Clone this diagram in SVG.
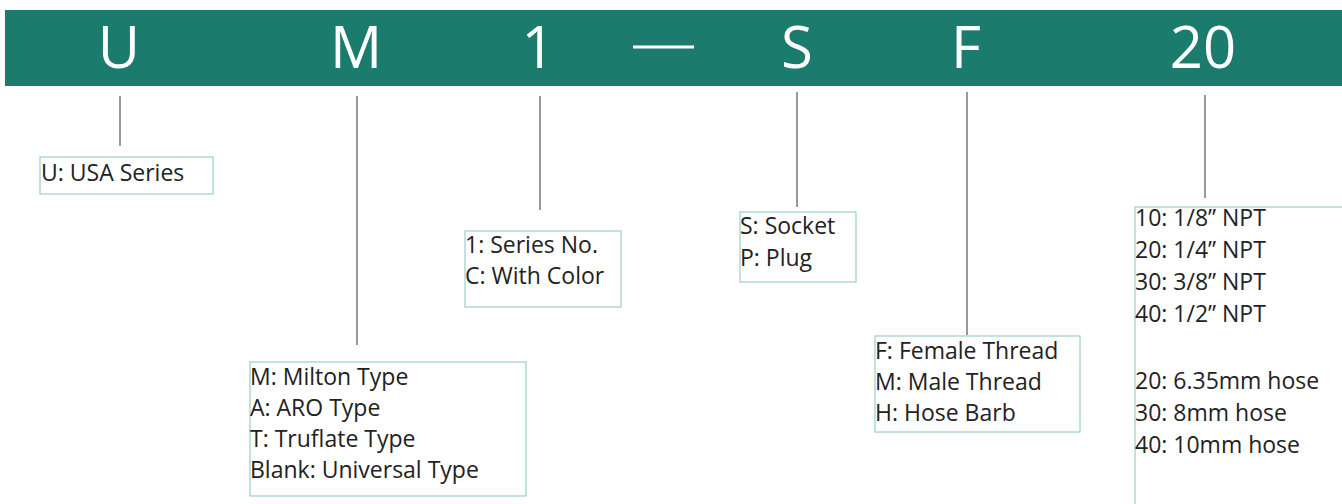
<svg xmlns="http://www.w3.org/2000/svg" width="1342" height="504" viewBox="0 0 1342 504">
<style>
.hdr{font-family:"Open Sans","Noto Sans",sans-serif;font-size:58px;fill:#ffffff;text-anchor:middle}
.box{fill:#ffffff;stroke:#9ccfc6;stroke-width:1.2}
.t{font-family:"Open Sans","Noto Sans",sans-serif;font-size:23px;fill:#222222}
.con line{stroke:#555555;stroke-width:1.2}
</style>
<rect x="0" y="0" width="1342" height="504" fill="#ffffff"/>
<g id="header">
<rect x="5" y="10" width="1337" height="76" fill="#1b7b6d"/>
<text class="hdr" x="119" y="68">U</text>
<text class="hdr" x="356" y="68">M</text>
<text class="hdr" x="538" y="68">1</text>
<line x1="633" y1="47" x2="694" y2="47" stroke="#ffffff" stroke-width="3"/>
<text class="hdr" x="797" y="68">S</text>
<text class="hdr" x="966" y="68">F</text>
<text class="hdr" x="1203" y="68">20</text>
</g>
<g id="connectors" class="con">
<line x1="120" y1="96" x2="120" y2="146"/>
<line x1="357" y1="96" x2="357" y2="345"/>
<line x1="540" y1="96" x2="540" y2="210"/>
<line x1="797" y1="92" x2="797" y2="207"/>
<line x1="967" y1="92" x2="967" y2="335"/>
<line x1="1205" y1="95" x2="1205" y2="198"/>
</g>
<g id="node-u">
<rect class="box" x="40" y="157" width="173" height="37"/>
<text class="t" x="41" y="181">U: USA Series</text>
</g>
<g id="node-m">
<rect class="box" x="250" y="362" width="276" height="134"/>
<text class="t" x="250" y="385">M: Milton Type</text>
<text class="t" x="250" y="416">A: ARO Type</text>
<text class="t" x="250" y="447">T: Truflate Type</text>
<text class="t" x="250" y="478">Blank: Universal Type</text>
</g>
<g id="node-1">
<rect class="box" x="465" y="231" width="156" height="76"/>
<text class="t" x="465" y="253">1: Series No.</text>
<text class="t" x="465" y="284">C: With Color</text>
</g>
<g id="node-s">
<rect class="box" x="740" y="212" width="116" height="70"/>
<text class="t" x="740" y="234">S: Socket</text>
<text class="t" x="740" y="266">P: Plug</text>
</g>
<g id="node-f">
<rect class="box" x="875" y="336" width="205" height="96"/>
<text class="t" x="875" y="359">F: Female Thread</text>
<text class="t" x="875" y="390">M: Male Thread</text>
<text class="t" x="875" y="421">H: Hose Barb</text>
</g>
<g id="node-20">
<rect class="box" x="1135" y="207" width="220" height="310"/>
<text class="t" x="1135" y="226">10: 1/8” NPT</text>
<text class="t" x="1135" y="258">20: 1/4” NPT</text>
<text class="t" x="1135" y="290">30: 3/8” NPT</text>
<text class="t" x="1135" y="322">40: 1/2” NPT</text>
<text class="t" x="1135" y="389">20: 6.35mm hose</text>
<text class="t" x="1135" y="421">30: 8mm hose</text>
<text class="t" x="1135" y="453">40: 10mm hose</text>
</g>
</svg>
